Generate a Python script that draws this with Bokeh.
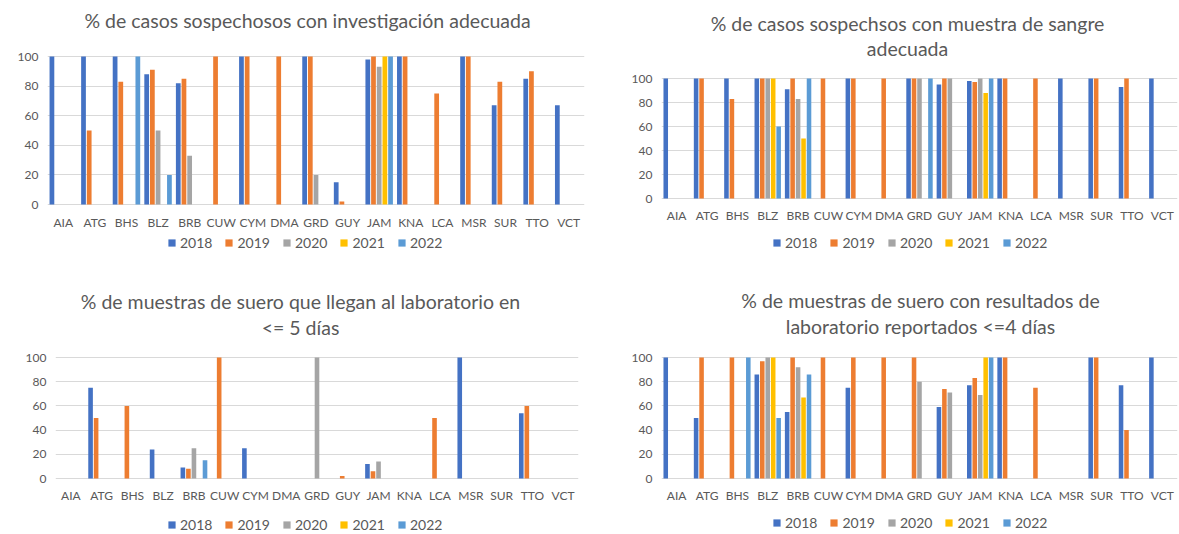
from bokeh.plotting import figure
from bokeh.models import ColumnDataSource, Legend, LegendItem, Label, FactorRange, Range1d, FixedTicker
from bokeh.transform import dodge
from bokeh.layouts import row, column
from bokeh.embed import file_html
from bokeh.resources import INLINE

N = float("nan")

countries = ["AIA", "ATG", "BHS", "BLZ", "BRB", "CUW", "CYM", "DMA", "GRD",
             "GUY", "JAM", "KNA", "LCA", "MSR", "SUR", "TTO", "VCT"]
years = ["2018", "2019", "2020", "2021", "2022"]
colors = ["#4472C4", "#ED7D31", "#A5A5A5", "#FFC000", "#5B9BD5"]
y_ticks = [0, 20, 40, 60, 80, 100]

# Panel 1: % de casos sospechosos con investigación adecuada
inv_2018 = [100, 100, 100, 88, 82, N, 100, N, 100, 15, 98, 100, N, 100, 67, 85, 67]
inv_2019 = [N, 50, 83, 91, 85, 100, 100, 100, 100, 2, 100, 100, 75, 100, 83, 90, N]
inv_2020 = [N, N, N, 50, 33, N, N, N, 20, N, 93, N, N, N, N, N, N]
inv_2021 = [N, N, N, N, N, N, N, N, N, N, 100, N, N, N, N, N, N]
inv_2022 = [N, N, 100, 20, N, N, N, N, N, N, 100, N, N, N, N, N, N]

# Panel 2: % de casos sospechsos con muestra de sangre adecuada
san_2018 = [100, 100, 100, 100, 91, N, 100, N, 100, 95, 98, 100, N, 100, 100, 93, 100]
san_2019 = [N, 100, 83, 100, 100, 100, 100, 100, 100, 100, 97, 100, 100, N, 100, 100, N]
san_2020 = [N, N, N, 100, 83, N, N, N, 100, 100, 100, N, N, N, N, N, N]
san_2021 = [N, N, N, 100, 50, N, N, N, N, N, 88, N, N, N, N, N, N]
san_2022 = [N, N, N, 60, 100, N, N, N, 100, N, 100, N, N, N, N, N, N]

# Panel 3: % de muestras de suero que llegan al laboratorio en <= 5 días
lle_2018 = [N, 75, N, 24, 9, N, 25, N, N, N, 12, N, N, 100, N, 54, N]
lle_2019 = [N, 50, 60, N, 8, 100, N, N, N, 2, 6, N, 50, N, N, 60, N]
lle_2020 = [N, N, N, N, 25, N, N, N, 100, N, 14, N, N, N, N, N, N]
lle_2021 = [N, N, N, N, N, N, N, N, N, N, N, N, N, N, N, N, N]
lle_2022 = [N, N, N, N, 15, N, N, N, N, N, N, N, N, N, N, N, N]

# Panel 4: % de muestras de suero con resultados de laboratorio reportados <=4 días
res_2018 = [100, 50, N, 86, 55, N, 75, N, N, 59, 77, 100, N, N, 100, 77, 100]
res_2019 = [N, 100, 100, 97, 100, 100, 100, 100, 100, 74, 83, 100, 75, N, 100, 40, N]
res_2020 = [N, N, N, 100, 92, N, N, N, 80, 71, 69, N, N, N, N, N, N]
res_2021 = [N, N, N, 100, 67, N, N, N, N, N, 100, N, N, N, N, N, N]
res_2022 = [N, N, 100, 50, 86, N, N, N, N, N, 100, N, N, N, N, N, N]

titles = [
    ["% de casos sospechosos con investigación adecuada"],
    ["% de casos sospechsos con muestra de sangre", "adecuada"],
    ["% de muestras de suero que llegan al laboratorio en", "<= 5 días"],
    ["% de muestras de suero con resultados de", "laboratorio reportados <=4 días"],
]

FONT = "Lato"
TXT = "#595959"
offsets = [-0.36, -0.18, 0.0, 0.18, 0.36]


def panel(series, title_lines, title_x, title_ys, fig_x, fig_y, w, h,
          fl, fr, y100, y0, label_gap, legend_cx, legend_cy):
    # the frame spans the whole figure height; y range chosen so that
    # 0 and 100 land on the wanted pixel rows
    k = (y0 - y100) / 100.0
    fb = fig_y + h
    y_start = -(fb - y0) / k
    y_end = 100 + (y100 - fig_y) / k
    p = figure(x_range=FactorRange(factors=countries), y_range=Range1d(y_start, y_end),
               frame_width=fr - fl, frame_height=h, output_backend="svg", toolbar_location=None,
               min_border_left=fl - fig_x, min_border_right=fig_x + w - fr,
               min_border_top=0, min_border_bottom=0)
    p.outline_line_color = None
    data = {"c": countries}
    for yr, vals in zip(years, series):
        data["y" + yr] = vals
    src = ColumnDataSource(data)
    items = []
    for i, yr in enumerate(years):
        r = p.vbar(x=dodge("c", offsets[i], range=p.x_range), top="y" + yr, bottom=0,
                   width=0.15, source=src, fill_color=colors[i], line_color=None)
        items.append(LegendItem(label=yr, renderers=[r]))
    p.xgrid.visible = False
    p.ygrid.grid_line_color = "#D9D9D9"
    p.ygrid.grid_line_width = 1
    p.yaxis.ticker = FixedTicker(ticks=y_ticks)
    p.xaxis.fixed_location = 0
    for ax in (p.xaxis[0], p.yaxis[0]):
        ax.axis_line_color = None
        ax.major_tick_line_color = None
        ax.minor_tick_line_color = None
        ax.major_tick_out = 0
        ax.major_tick_in = 0
        ax.major_label_text_font = FONT
        ax.major_label_text_color = TXT
        ax.major_label_text_font_size = "12px"
    p.yaxis.major_label_standoff = 9
    p.xaxis.major_label_standoff = label_gap
    leg_w, leg_h = 276, 16
    leg = Legend(items=items, orientation="horizontal",
                 location=(legend_cx - leg_w / 2 - fl, fb - (legend_cy + leg_h / 2)),
                 glyph_width=9, glyph_height=9, label_standoff=4, spacing=12,
                 padding=0, margin=0, border_line_color=None,
                 background_fill_alpha=0,
                 label_text_font=FONT, label_text_font_size="14px",
                 label_text_color=TXT, label_height=15)
    p.add_layout(leg)
    for line, ty in zip(title_lines, title_ys):
        p.add_layout(Label(x=title_x - fl, y=fb - ty, x_units="screen", y_units="screen",
                           text=line, text_align="center", text_baseline="middle",
                           text_font=FONT, text_font_size="19.5px", text_color=TXT))
    return p


p1 = panel([inv_2018, inv_2019, inv_2020, inv_2021, inv_2022], titles[0], 307, [20],
           0, 0, 590, 268, 47, 584, 56, 204, 10, 305, 243)
p2 = panel([san_2018, san_2019, san_2020, san_2021, san_2022], titles[1], 907, [23, 48],
           590, 0, 589, 268, 661, 1177, 78, 198, 9, 910, 243)
p3 = panel([lle_2018, lle_2019, lle_2020, lle_2021, lle_2022], titles[2], 300, [301, 327],
           0, 268, 590, 266, 55, 578, 357, 478, 9, 305, 525)
p4 = panel([res_2018, res_2019, res_2020, res_2021, res_2022], titles[3], 920, [300, 326],
           590, 268, 589, 266, 661, 1177, 357, 478, 9, 910, 523)

layout = column(row(p1, p2), row(p3, p4))
open("out.html", "w").write(file_html(layout, INLINE))
